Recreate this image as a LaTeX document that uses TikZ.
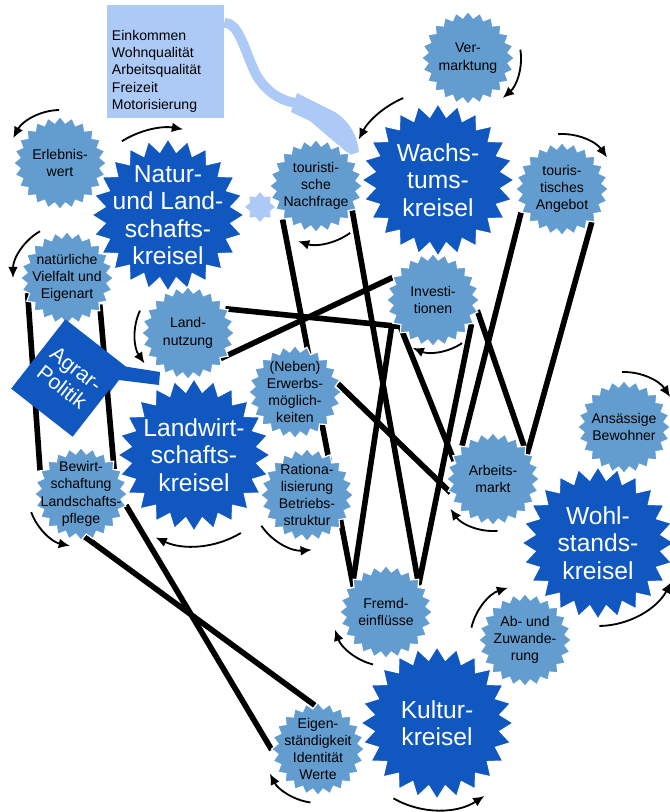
\documentclass[tikz,border=0pt]{standalone}
\usepackage{fontspec}
\setmainfont{Liberation Sans}
\usetikzlibrary{shapes.geometric,arrows.meta,backgrounds}
\definecolor{kreiselblau}{RGB}{16,88,192}
\definecolor{faktorblau}{RGB}{99,157,208}
\definecolor{infoblau}{RGB}{172,202,245}

\tikzset{
  kreisel/.style={star, star points=24, star point ratio=1.2, fill=kreiselblau, draw=white,
    line width=0.8pt, minimum size=3.8cm, inner sep=0pt,
    label={[text=white, inner sep=0pt, align=center,
      font=\fontsize{17.5}{19.5}\selectfont]center:{#1}}},
  faktor/.style={star, star points=24, star point ratio=1.15, fill=faktorblau, draw=white,
    line width=0.8pt, minimum size=2.32cm, inner sep=0pt,
    label={[inner sep=0pt, align=center,
      font=\fontsize{10}{12.3}\selectfont]center:{#1}}},
  link/.style={line width=4pt},
  cyc/.style={line width=1.3pt, -{Latex[length=8pt,width=7pt]}},
}

\begin{document}
\begin{tikzpicture}[x=0.025cm, y=0.025cm]
\useasboundingbox (0,0) rectangle (670,-812);

% Kreisel
\node[kreisel={Natur-\\und Land-\\schafts-\\kreisel}] (natur) at (168,-215) {};
\node[kreisel={Wachs-\\tums-\\kreisel}] (wachstum) at (438,-180) {};
\node[kreisel={Landwirt-\\schafts-\\kreisel}] (landwirt) at (194,-455) {};
\node[kreisel={Wohl-\\stands-\\kreisel}] (wohlstand) at (598,-543) {};
\node[kreisel={Kultur-\\kreisel}] (kultur) at (437,-723) {};

% Faktoren
\node[faktor={Erlebnis-\\wert}] (erlebnis) at (60,-163) {};
\node[faktor={Ver-\\marktung}] (vermarktung) at (468,-58) {};
\node[faktor={touristi-\\sche\\Nachfrage}] (nachfrage) at (316,-186) {};
\node[faktor={touris-\\tisches\\Angebot}] (angebot) at (562,-189) {};
\node[faktor={natürliche\\Vielfalt und\\Eigenart}] (vielfalt) at (67,-278) {};
\node[faktor={Investi-\\tionen}] (invest) at (433,-300) {};
\node[faktor={Land-\\nutzung}] (nutzung) at (188,-333) {};
\node[faktor={(Neben)\\Erwerbs-\\möglich-\\keiten}] (erwerb) at (295,-392) {};
\node[faktor={Ansässige\\Bewohner}] (bewohner) at (624,-427) {};
\node[faktor={Arbeits-\\markt}] (arbeit) at (493,-479) {};
\node[faktor={Bewirt-\\schaftung\\Landschafts-\\pflege}] (bewirt) at (81,-494) {};
\node[faktor={Rationa-\\lisierung\\Betriebs-\\struktur}] (ratio) at (307,-495) {};
\node[faktor={Fremd-\\einflüsse}] (fremd) at (386,-612) {};
\node[faktor={Ab- und\\Zuwande-\\rung}] (wanderung) at (525,-640) {};
\node[faktor={Eigen-\\ständigkeit\\Identität\\Werte}] (eigen) at (318,-749) {};

\node[star, star points=8, star point ratio=1.4, fill=infoblau, minimum size=0.75cm,
  inner sep=0pt] (deko) at (260,-207) {};

% Einflussgroessen
\node[rectangle, fill=infoblau, minimum width=2.925cm, minimum height=2.825cm,
  label={[inner sep=0pt, align=left, xshift=-6.4pt, yshift=-6.8pt,
    font=\fontsize{10}{12.3}\selectfont]center:{Einkommen\\Wohnqualität\\Arbeitsqualität\\Freizeit\\Motorisierung}}]
  (info) at (165.5,-61.5) {};

\node[rectangle, fill=kreiselblau, rotate=-38, minimum width=1.95cm, minimum height=2.2cm,
  text=white, align=center, font=\fontsize{15}{16.5}\selectfont] (agrar) at (69,-378) {Agrar-\\Politik};
\fill[kreiselblau] (105,-352) -- (122,-366) -- (160,-372) -- (159,-385) -- (119,-380) -- (110,-392) -- cycle;

\begin{scope}[on background layer]
  \draw[infoblau, line width=7pt] ([yshift=-12.8pt]info.north east) .. controls (238,-23) and (243,-45) .. (253,-68)
    .. controls (260,-85) and (275,-100) .. (296,-103);
  \fill[infoblau] (297,-93) -- (335,-112) .. controls (350,-122) and (357,-135) .. (359,-152)
    -- (350,-155) -- (310,-121) -- (291,-112) -- cycle;

  \draw[link] (vielfalt.201) -- (bewirt.150);
  \draw[link] (vielfalt.321) -- (bewirt.37);
  \draw[link] (bewirt.275) -- (eigen.94);
  \draw[link] (bewirt.346) -- (eigen.181);
  \draw[link] (nachfrage.225) -- (fremd.142);
  \draw[link] (nachfrage.326) -- (fremd.39);
  \draw[link] (nutzung.322) -- (invest.151);
  \draw[link] (nutzung.33) -- (invest.219) -- (arbeit.155);
  \draw[link] (invest.347) -- (arbeit.40);
  \draw[link] (invest.210) -- (fremd.138);
  \draw[link] (invest.328) -- (fremd.41);
  \draw[link] (angebot.210) -- (arbeit.133);
  \draw[link] (angebot.312) -- (arbeit.36);
  \draw[link] (erwerb.11) -- (arbeit.198);
\end{scope}

% Kreislaufpfeile
\draw[cyc] (erlebnis.center) ++(91:53) arc[start angle=91, end angle=152, radius=53];
\draw[cyc] (natur.center) ++(122:87) arc[start angle=122, end angle=80, radius=87];
\draw[cyc] (vermarktung.center) ++(9:53) arc[start angle=9, end angle=-49, radius=53];
\draw[cyc] (wachstum.center) ++(113:89) arc[start angle=113, end angle=153, radius=89];
\draw[cyc] (angebot.center) ++(94:55) arc[start angle=94, end angle=35, radius=55];
\draw[cyc] (nachfrage.center) ++(-54:58) arc[start angle=-54, end angle=-108, radius=58];
\draw[cyc] (vielfalt.center) ++(120:54) arc[start angle=120, end angle=180, radius=54];
\draw[cyc] (nutzung.center) ++(155:53) arc[start angle=155, end angle=215, radius=53];
\draw[cyc] (invest.center) ++(-56:52) arc[start angle=-56, end angle=-113, radius=52];
\draw[cyc] (ratio.center) ++(214:55) arc[start angle=214, end angle=275, radius=55];
\draw[cyc] (bewohner.center) ++(92:55) arc[start angle=92, end angle=33, radius=55];
\draw[cyc] (arbeit.center) ++(-85:52) arc[start angle=-85, end angle=-145, radius=52];
\draw[cyc] (bewirt.center) ++(200:53) arc[start angle=200, end angle=258, radius=53];
\draw[cyc] (fremd.center) ++(256:54) arc[start angle=256, end angle=199, radius=54];
\draw[cyc] (wanderung.center) ++(167:55) arc[start angle=167, end angle=108, radius=55];
\draw[cyc] (eigen.center) ++(262:54) arc[start angle=262, end angle=207, radius=54];
\draw[cyc] (landwirt.center) ++(-59:91) arc[start angle=-59, end angle=-115, radius=91];
\draw[cyc] (wohlstand.center) ++(-89:83) arc[start angle=-89, end angle=-28, radius=83];
\draw[cyc] (kultur.center) ++(240:87) arc[start angle=240, end angle=303, radius=87];
\end{tikzpicture}
\end{document}
